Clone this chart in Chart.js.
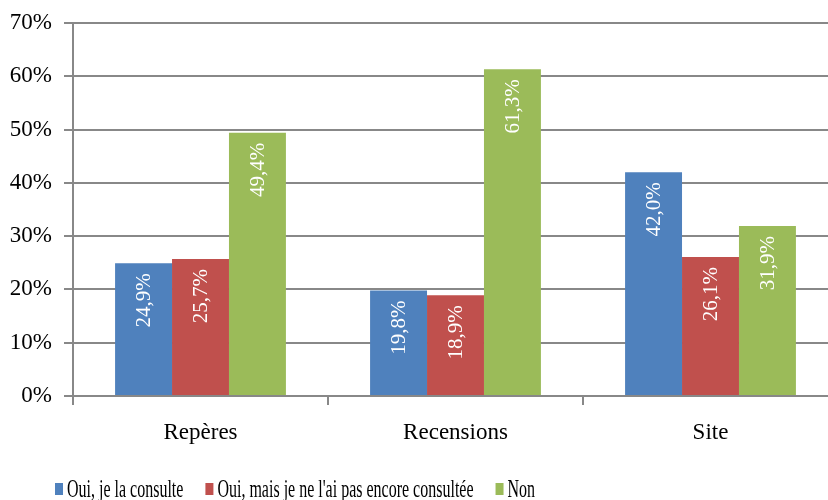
<!DOCTYPE html>
<html>
<head>
<meta charset="utf-8">
<script src="https://cdn.jsdelivr.net/npm/chart.js@4/dist/chart.umd.min.js"></script>
<style>
  html, body { margin: 0; padding: 0; background: #fff; overflow: hidden; }
  #wrap { width: 838px; height: 500px; }
</style>
</head>
<body>
<div id="wrap"><canvas id="chart"></canvas></div>
<script>
var categories = ["Repères", "Recensions", "Site"];
var seriesNames = ["Oui, je la consulte", "Oui, mais je ne l'ai pas encore consultée", "Non"];
var oui = [24.9, 19.8, 42.0];
var ouiPas = [25.7, 18.9, 26.1];
var non = [49.4, 61.3, 31.9];
var colors = ["#4F81BD", "#C0504D", "#9BBB59"];

var gray = "#888888";

// labels drawn vertically inside the top of each bar
var barLabels = {
  id: 'barLabels',
  afterDatasetsDraw: function(chart) {
    var ctx = chart.ctx;
    ctx.save();
    ctx.fillStyle = "#ffffff";
    ctx.font = "21px 'Liberation Serif'";
    ctx.textAlign = "right";
    ctx.textBaseline = "middle";
    chart.data.datasets.forEach(function(ds, i) {
      chart.getDatasetMeta(i).data.forEach(function(bar, j) {
        var txt = ds.data[j].toFixed(1).replace(".", ",") + "%";
        ctx.save();
        ctx.translate(bar.x + 1, bar.y + 10);
        ctx.rotate(-Math.PI / 2);
        ctx.fillText(txt, 0, 0);
        ctx.restore();
      });
    });
    ctx.restore();
  }
};

// condensed legend at the bottom left
var bottomLegend = {
  id: 'bottomLegend',
  afterDraw: function(chart) {
    var ctx = chart.ctx;
    var x = 55, sx = 0.64;
    ctx.save();
    ctx.font = "25px 'Liberation Serif'";
    ctx.textBaseline = "alphabetic";
    chart.data.datasets.forEach(function(ds) {
      ctx.fillStyle = ds.backgroundColor;
      ctx.fillRect(x, 483, 8, 12);
      var tx = x + 12;
      var w = ctx.measureText(ds.label).width * sx;
      ctx.save();
      ctx.translate(tx, 497);
      ctx.scale(sx, 1);
      ctx.fillStyle = "#000";
      ctx.fillText(ds.label, 0, 0);
      ctx.restore();
      x = tx + w + 22;
    });
    ctx.restore();
  }
};

new Chart(document.getElementById("chart"), {
  type: 'bar',
  data: {
    labels: categories,
    datasets: [
      { label: seriesNames[0], data: oui, backgroundColor: colors[0] },
      { label: seriesNames[1], data: ouiPas, backgroundColor: colors[1] },
      { label: seriesNames[2], data: non, backgroundColor: colors[2] }
    ]
  },
  options: {
    responsive: true,
    maintainAspectRatio: false,
    animation: false,
    layout: { padding: { top: 23, right: 0, left: 0, bottom: 0 } },
    datasets: { bar: { barPercentage: 1, categoryPercentage: 0.67 } },
    plugins: {
      legend: { display: false },
      tooltip: { enabled: false }
    },
    scales: {
      x: {
        afterFit: function(s) { s.height = 104; },
        grid: { drawOnChartArea: false, drawTicks: true, tickLength: 9, color: gray, lineWidth: 2 },
        border: { color: gray, width: 2 },
        ticks: { color: "#000", padding: 14, font: { family: "'Liberation Serif'", size: 23 } }
      },
      y: {
        min: 0, max: 70,
        afterFit: function(s) { s.width = 73; },
        grid: { color: gray, lineWidth: 2, tickLength: 9 },
        border: { color: gray, width: 2 },
        ticks: {
          stepSize: 10, color: "#000", padding: 12,
          font: { family: "'Liberation Serif'", size: 23, lineHeight: 0.9 },
          callback: function(v) { return v + "%"; }
        }
      }
    }
  },
  plugins: [barLabels, bottomLegend]
});
</script>
</body>
</html>
